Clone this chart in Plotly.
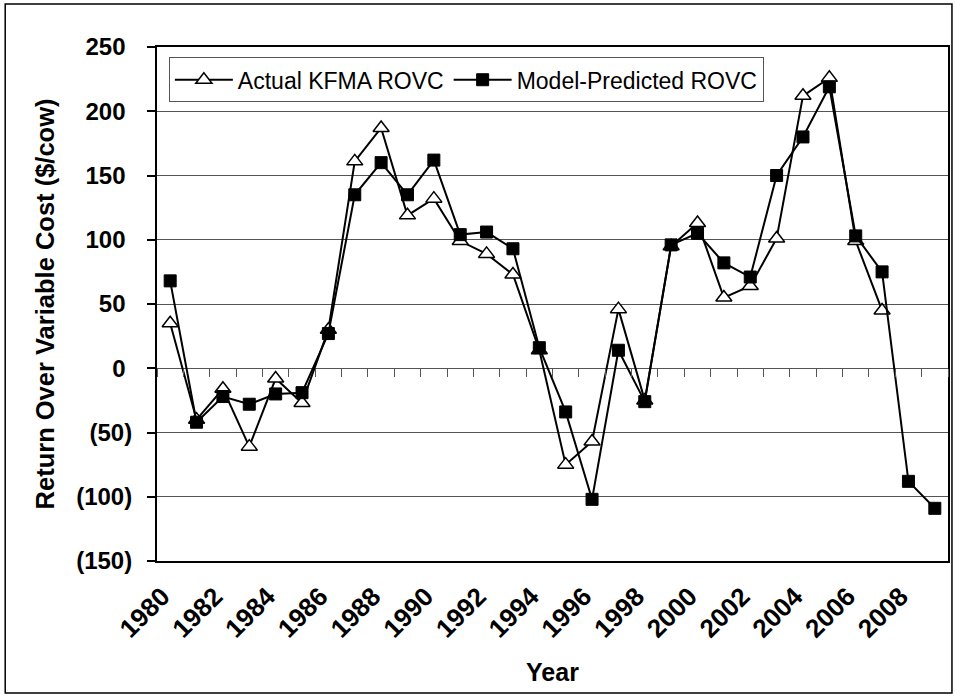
import plotly.graph_objects as go

years = [1980, 1981, 1982, 1983, 1984, 1985, 1986, 1987, 1988, 1989,
         1990, 1991, 1992, 1993, 1994, 1995, 1996, 1997, 1998, 1999,
         2000, 2001, 2002, 2003, 2004, 2005, 2006, 2007, 2008, 2009]
actual_rovc = [35, -40, -16, -61, -8, -27, 30, 161, 187, 119,
               132, 99, 89, 73, 14, -75, -57, 46, -25, 95,
               113, 55, 64, 101, 212, 226, 99, 45, None, None]
model_rovc = [68, -42, -22, -28, -20, -19, 27, 135, 160, 135,
              162, 104, 106, 93, 16, -34, -102, 14, -26, 96,
              105, 82, 71, 150, 180, 219, 103, 75, -88, -109]
x_tick_labels = ["1980", "1982", "1984", "1986", "1988", "1990", "1992", "1994",
                 "1996", "1998", "2000", "2002", "2004", "2006", "2008"]
y_tick_vals = [-150, -100, -50, 0, 50, 100, 150, 200, 250]
y_tick_text = ["(150)", "(100)", "(50)", "0\u00a0", "50\u00a0", "100\u00a0",
               "150\u00a0", "200\u00a0", "250\u00a0"]

FONT = "Liberation Sans, Arial, sans-serif"

fig = go.Figure()
fig.add_trace(go.Scatter(
    x=years, y=actual_rovc, name="Actual KFMA ROVC", mode="lines+markers",
    line=dict(color="black", width=2),
    marker=dict(symbol="triangle-up", size=14, color="white",
                line=dict(color="black", width=1.5)),
    connectgaps=False, xaxis="x", yaxis="y"))
fig.add_trace(go.Scatter(
    x=years, y=model_rovc, name="Model-Predicted ROVC", mode="lines+markers",
    line=dict(color="black", width=2),
    marker=dict(symbol="square", size=12, color="black",
                line=dict(color="black", width=1)),
    xaxis="x", yaxis="y"))
# invisible trace to activate the secondary x axis (tick marks at y=0)
fig.add_trace(go.Scatter(x=[years[0]], y=[0], mode="markers",
                         marker=dict(opacity=0), showlegend=False,
                         hoverinfo="skip", xaxis="x2", yaxis="y"))

x_range = [years[0] - 0.5, years[-1] + 0.5]

fig.update_layout(
    width=956, height=698,
    margin=dict(l=157, r=8, t=47, b=137),
    paper_bgcolor="white", plot_bgcolor="white",
    font=dict(family=FONT, color="black"),
    showlegend=True,
    legend=dict(orientation="h", x=0.015, y=0.98, xanchor="left", yanchor="top",
                bgcolor="white", bordercolor="#555555", borderwidth=1,
                font=dict(size=23, family=FONT), itemwidth=58,
                tracegroupgap=0),
    xaxis=dict(range=x_range, tickmode="array",
               tickvals=[int(t) for t in x_tick_labels], ticktext=x_tick_labels,
               tickangle=-45, ticks="", showgrid=False, zeroline=False,
               showline=True, linecolor="black", linewidth=2, mirror=True,
               tickfont=dict(size=26, family=FONT, weight="bold"),
               ticklabelshift=-8, ticklabelstandoff=8,
               automargin=False,
               title=dict(text="Year", font=dict(size=25, family=FONT, weight="bold"),
                          standoff=21)),
    xaxis2=dict(range=x_range, overlaying="x", anchor="free", position=0.375,
                tickmode="linear", tick0=years[0] - 0.5, dtick=1,
                ticks="outside", ticklen=8, tickcolor="#555555", tickwidth=1,
                showticklabels=False, showgrid=False, zeroline=False,
                showline=False, automargin=False),
    yaxis=dict(range=[-150, 250], tickmode="array", tickvals=y_tick_vals,
               ticktext=y_tick_text, ticks="outside", ticklen=8,
               tickcolor="black", tickwidth=1.5,
               showgrid=True, gridcolor="#555555", gridwidth=1,
               zeroline=False, showline=True, linecolor="black", linewidth=2,
               mirror=True, ticklabelstandoff=10,
               tickfont=dict(size=24, family=FONT, weight="bold"),
               automargin=False,
               title=dict(text="Return Over Variable Cost ($/cow)",
                          font=dict(size=25.5, family=FONT, weight="bold"),
                          standoff=14)),
    shapes=[dict(type="rect", xref="paper", yref="paper",
                 x0=-0.1919, x1=1.005, y0=-0.2568, y1=1.0837,
                 line=dict(color="black", width=1.5), layer="below")],
)

fig.write_html("out.html")
